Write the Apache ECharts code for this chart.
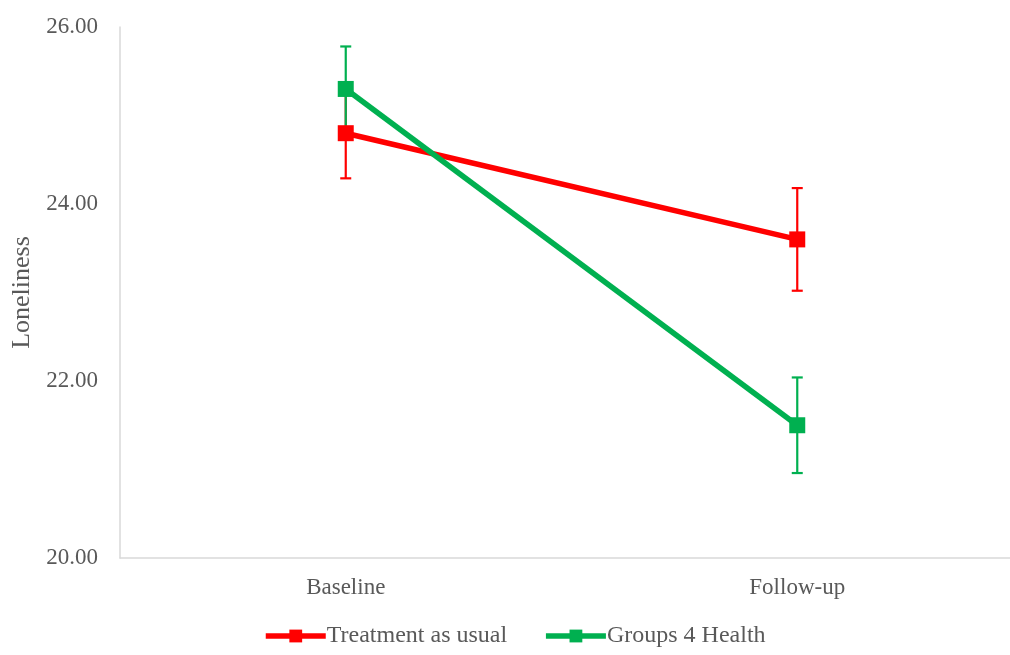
<!DOCTYPE html>
<html>
<head>
<meta charset="utf-8">
<script src="https://cdn.jsdelivr.net/npm/echarts@6/dist/echarts.min.js"></script>
<style>
  html, body { margin: 0; padding: 0; background: #fff; }
  #chart { width: 1010px; height: 655px; }
</style>
</head>
<body>
<div id="chart"></div>
<script>
// data
const categories = ["Baseline", "Follow-up"];
const tauMeans = [24.8, 23.6];
const tauErr = [0.51, 0.58];
const g4hMeans = [25.3, 21.5];
const g4hErr = [0.48, 0.54];
const yTicks = [20, 22, 24, 26];

const RED = "#FF0000";
const GREEN = "#00B050";
const FONT = "Liberation Serif";

const chart = echarts.init(document.getElementById("chart"));

// error bar as custom series: [catIndex, low, high]
function errorData(means, errs) {
  return means.map((m, i) => [i, m - errs[i], m + errs[i]]);
}

function errorSeries(name, color, means, errs) {
  return {
    type: "custom",
    name: name,
    z: 1,
    silent: true,
    data: errorData(means, errs),
    renderItem: function (params, api) {
      const lo = api.coord([api.value(0), api.value(1)]);
      const hi = api.coord([api.value(0), api.value(2)]);
      const w = 11;
      const style = { stroke: color, lineWidth: 2.2 };
      return {
        type: "group",
        children: [
          { type: "line", shape: { x1: hi[0], y1: hi[1], x2: lo[0], y2: lo[1] }, style: style },
          { type: "line", shape: { x1: hi[0] - w / 2, y1: hi[1], x2: hi[0] + w / 2, y2: hi[1] }, style: style },
          { type: "line", shape: { x1: lo[0] - w / 2, y1: lo[1], x2: lo[0] + w / 2, y2: lo[1] }, style: style }
        ]
      };
    }
  };
}

function lineSeries(name, color, means) {
  return {
    type: "line",
    name: name,
    z: 3,
    data: means,
    symbol: "rect",
    symbolSize: 16,
    lineStyle: { color: color, width: 5.5 },
    itemStyle: { color: color },
    emphasis: { disabled: true }
  };
}

const option = {
  animation: false,
  textStyle: { fontFamily: FONT },
  // the plot runs a little past the right edge in the original
  grid: { left: 120, width: 903, top: 27, bottom: 97, outerBoundsMode: "none" },
  legend: {
    bottom: 2,
    left: 258,
    itemWidth: 60,
    itemHeight: 16,
    itemGap: 36,
    lineStyle: { width: 5.5 },
    textStyle: { fontFamily: FONT, fontSize: 24, color: "#595959", padding: [0, 0, 0, -4] },
    data: ["Treatment as usual", "Groups 4 Health"]
  },
  xAxis: {
    type: "category",
    data: categories,
    boundaryGap: true,
    axisLine: { lineStyle: { color: "#D9D9D9", width: 1.5 } },
    axisTick: { show: false },
    axisLabel: { fontFamily: FONT, fontSize: 23, color: "#595959", margin: 18 }
  },
  yAxis: {
    type: "value",
    min: yTicks[0],
    max: yTicks[yTicks.length - 1],
    interval: 2,
    name: "Loneliness",
    nameLocation: "middle",
    nameGap: 84,
    nameTextStyle: { fontFamily: FONT, fontSize: 26, color: "#595959" },
    axisLine: { show: true, lineStyle: { color: "#D9D9D9", width: 1.5 } },
    axisTick: { show: false },
    splitLine: { show: false },
    axisLabel: {
      fontFamily: FONT, fontSize: 23, color: "#595959", margin: 22,
      formatter: v => v.toFixed(2)
    }
  },
  series: [
    errorSeries("tau-err", RED, tauMeans, tauErr),
    errorSeries("g4h-err", GREEN, g4hMeans, g4hErr),
    lineSeries("Treatment as usual", RED, tauMeans),
    lineSeries("Groups 4 Health", GREEN, g4hMeans)
  ]
};

chart.setOption(option);
</script>
</body>
</html>
